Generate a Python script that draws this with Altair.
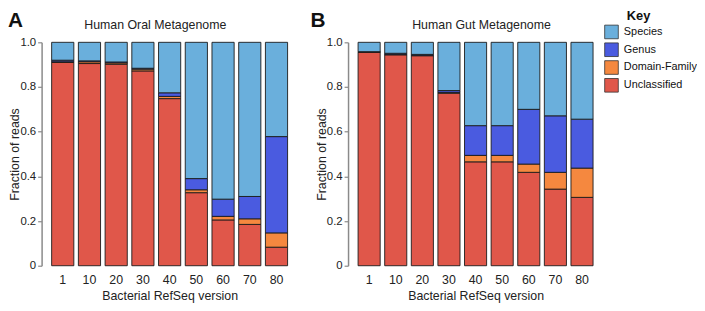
import altair as alt
import pandas as pd

versions = ["1", "10", "20", "30", "40", "50", "60", "70", "80"]
categories = ["Species", "Genus", "Domain-Family", "Unclassified"]
colors = ["#6AAFDC", "#4A5BE0", "#F5883F", "#E0574A"]

oral_unclassified = [0.910, 0.905, 0.902, 0.872, 0.748, 0.327, 0.205, 0.185, 0.083]
oral_domain = [0.003, 0.008, 0.006, 0.008, 0.010, 0.013, 0.016, 0.025, 0.064]
oral_genus = [0.007, 0.004, 0.004, 0.004, 0.016, 0.050, 0.077, 0.100, 0.431]
oral_species = [0.080, 0.083, 0.088, 0.116, 0.226, 0.610, 0.702, 0.690, 0.422]

gut_unclassified = [0.956, 0.944, 0.940, 0.772, 0.465, 0.465, 0.418, 0.343, 0.306]
gut_domain = [0.001, 0.002, 0.002, 0.004, 0.029, 0.029, 0.037, 0.075, 0.131]
gut_genus = [0.001, 0.005, 0.004, 0.008, 0.133, 0.133, 0.245, 0.253, 0.219]
gut_species = [0.042, 0.049, 0.054, 0.216, 0.373, 0.373, 0.300, 0.329, 0.344]

FONT = "Liberation Sans"


def make_df(unc, dom, gen, spe):
    rows = []
    for i, v in enumerate(versions):
        for k, (cat, vals) in enumerate(zip(["Unclassified", "Domain-Family", "Genus", "Species"],
                                             [unc, dom, gen, spe])):
            rows.append({"version": v, "category": cat, "value": vals[i], "order": k})
    return pd.DataFrame(rows)


def panel(df, title, letter, title_x, letter_x, width, key=False):
    base = alt.Chart(df).mark_bar(stroke="#1a1a1a", strokeWidth=0.9).encode(
        x=alt.X("version:N", sort=versions,
                scale=alt.Scale(paddingInner=0.17, paddingOuter=0.08),
                axis=alt.Axis(title="Bacterial RefSeq version", labelAngle=0, domain=False,
                              ticks=False, labelPadding=8, titlePadding=4,
                              labelFontSize=12.5, titleFontSize=12.5, labelColor="#222",
                              titleColor="#222", titleFontWeight="normal", labelFont=FONT, titleFont=FONT)),
        y=alt.Y("value:Q", stack="zero",
                scale=alt.Scale(domain=[0, 1], nice=False),
                axis=alt.Axis(title="Fraction of reads", values=[0, 0.2, 0.4, 0.6, 0.8, 1.0],
                              labelExpr="datum.value == 0 ? '0' : format(datum.value, '.1f')",
                              grid=False, offset=8, domainColor="#8a8a8a", domainWidth=1.5,
                              tickColor="#8a8a8a", tickSize=4, tickWidth=1.2, labelPadding=2,
                              titlePadding=-2, labelFontSize=11.5, titleFontSize=12.5,
                              labelColor="#222", titleColor="#222", titleFontWeight="normal",
                              labelFont=FONT, titleFont=FONT)),
        color=alt.Color("category:N", scale=alt.Scale(domain=categories, range=colors),
                        legend=alt.Legend(title=None)),
        order=alt.Order("order:Q", sort="ascending"),
    )
    head = alt.Chart(pd.DataFrame({"t": [title]})).mark_text(
        font=FONT, fontSize=12.5, color="#222", align="center", baseline="middle"
    ).encode(text="t:N", x=alt.value(title_x), y=alt.value(-17))
    let = alt.Chart(pd.DataFrame({"t": [letter]})).mark_text(
        font=FONT, fontSize=21, fontWeight="bold", color="#111", align="left", baseline="alphabetic"
    ).encode(text="t:N", x=alt.value(letter_x), y=alt.value(-16))
    layers = [base, head, let]
    if key:
        k = alt.Chart(pd.DataFrame({"t": ["Key"]})).mark_text(
            font=FONT, fontSize=13, fontWeight="bold", color="#111", align="left", baseline="alphabetic"
        ).encode(text="t:N", x=alt.value(width + 32), y=alt.value(-23))
        layers.append(k)
    return alt.layer(*layers).properties(width=width, height=226)


oral = make_df(oral_unclassified, oral_domain, oral_genus, oral_species)
gut = make_df(gut_unclassified, gut_domain, gut_genus, gut_species)

chart = alt.hconcat(
    panel(oral, "Human Oral Metagenome", "A", 107, -42, 243),
    panel(gut, "Human Gut Metagenome", "B", 127, -46, 242, key=True),
    spacing=21,
).configure(
    padding={"left": 0, "top": 0, "right": 0, "bottom": 0},
).configure_view(
    stroke=None
).configure_legend(
    orient="none", legendX=561, legendY=-18, labelFont=FONT, labelFontSize=11, labelColor="#111",
    symbolType="square", symbolSize=190, symbolStrokeColor="#333", symbolStrokeWidth=0.8,
    symbolOpacity=1, rowPadding=1, labelOffset=5,
)

chart.save("out.html", embed_options={"renderer": "svg", "actions": False})
